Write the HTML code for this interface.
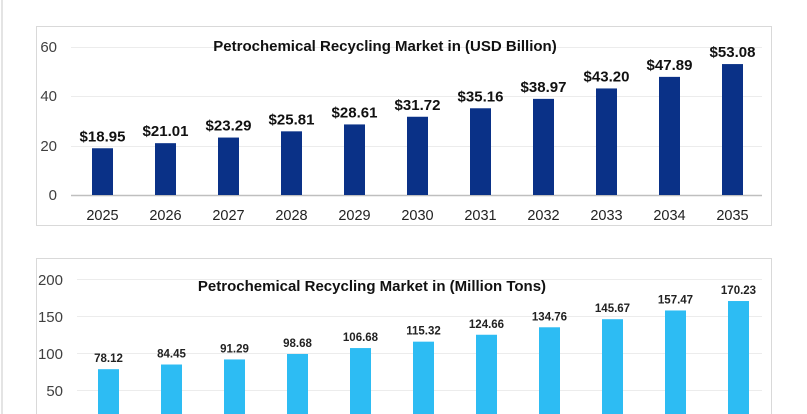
<!DOCTYPE html>
<html><head><meta charset="utf-8"><style>
html,body{margin:0;padding:0;background:#fff;width:807px;height:414px;overflow:hidden}
svg{display:block;font-family:"Liberation Sans",sans-serif}
</style></head><body>
<svg width="807" height="414" viewBox="0 0 807 414">
<line x1="2" y1="0" x2="2" y2="414" stroke="#e4e4e4" stroke-width="2"/>
<rect x="36.5" y="26.5" width="735" height="199" fill="#fff" stroke="#d9d9d9"/>
<g stroke="#ececec" stroke-width="1">
<line x1="71" y1="47.5" x2="762" y2="47.5"/>
<line x1="71" y1="96.5" x2="762" y2="96.5"/>
<line x1="71" y1="146.5" x2="762" y2="146.5"/>
</g>
<line x1="71" y1="195.5" x2="762" y2="195.5" stroke="#bfbfbf" stroke-width="1.5"/>
<g font-size="15" fill="#404040" text-anchor="end">
<text x="57" y="52">60</text><text x="57" y="101">40</text><text x="57" y="151">20</text><text x="57" y="200">0</text>
</g>
<text x="385" y="51" font-size="15" font-weight="bold" text-anchor="middle" fill="#111">Petrochemical Recycling Market in (USD Billion)</text>
<g id="top"></g>
<rect x="36.5" y="258.5" width="735" height="160" fill="#fff" stroke="#d9d9d9"/>
<g stroke="#ececec" stroke-width="1">
<line x1="77" y1="279.5" x2="762" y2="279.5"/>
<line x1="77" y1="316.5" x2="762" y2="316.5"/>
<line x1="77" y1="353.5" x2="762" y2="353.5"/>
<line x1="77" y1="390.5" x2="762" y2="390.5"/>
</g>
<g font-size="15" fill="#404040" text-anchor="end">
<text x="63" y="285">200</text><text x="63" y="322">150</text><text x="63" y="359">100</text><text x="63" y="396">50</text>
</g>
<text x="372" y="291" font-size="15" font-weight="bold" text-anchor="middle" fill="#111">Petrochemical Recycling Market in (Million Tons)</text>
<g id="bot"></g>
<script>
var ns="http://www.w3.org/2000/svg";
function el(p,t,a,txt){var e=document.createElementNS(ns,t);for(var k in a)e.setAttribute(k,a[k]);if(txt)e.textContent=txt;p.appendChild(e);}
var tv=[18.95,21.01,23.29,25.81,28.61,31.72,35.16,38.97,43.20,47.89,53.08];
var bv=[78.12,84.45,91.29,98.68,106.68,115.32,124.66,134.76,145.67,157.47,170.23];
var T=document.getElementById('top'),B=document.getElementById('bot');
for(var i=0;i<11;i++){
 var c=102.5+63*i,h=tv[i]*148/60;
 el(T,'rect',{x:c-10.5,y:195-h,width:21,height:h,fill:'#0a3187'});
 el(T,'text',{x:c,y:195-h-7,'font-size':15,'font-weight':'bold','text-anchor':'middle',fill:'#111'},'$'+tv[i].toFixed(2));
 el(T,'text',{x:c,y:220,'font-size':14.5,'text-anchor':'middle',fill:'#222'},String(2025+i));
 var c2=108.5+63*i,h2=bv[i]*0.74,y2=427-h2;
 el(B,'rect',{x:c2-10.5,y:y2,width:21,height:414-y2,fill:'#2dbcf3'});
 el(B,'text',{x:c2,y:y2-7,'font-size':11.5,'font-weight':'bold','text-anchor':'middle',fill:'#222'},bv[i].toFixed(2));
}
</script>
</svg>
</body></html>
